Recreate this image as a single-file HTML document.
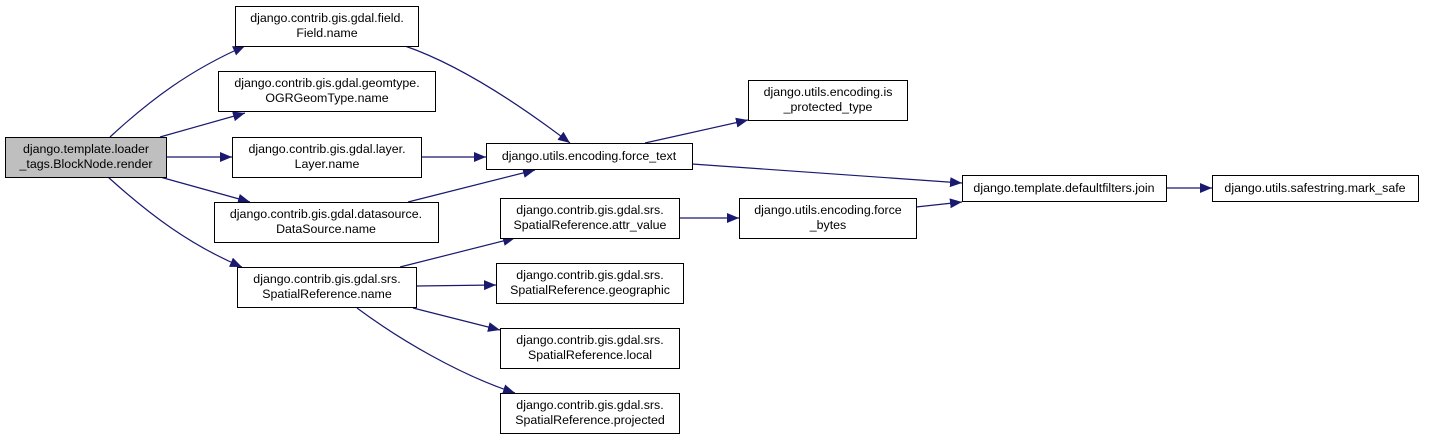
<!DOCTYPE html>
<html><head><meta charset="utf-8"><style>
html,body{margin:0;padding:0;background:#fff;}
svg text{font-family:"Liberation Sans",Arial,sans-serif;font-size:12.4px;fill:#000;}
</style></head><body>
<svg width="1440" height="440" viewBox="0 0 1440 440" xmlns="http://www.w3.org/2000/svg">
<defs>
<marker id="a" markerUnits="userSpaceOnUse" markerWidth="14" markerHeight="12" refX="12" refY="5" orient="auto">
<path d="M0,0 L12,5 L0,10 Z" fill="#191970"/>
</marker>
</defs>
<g fill="none" stroke="#191970" stroke-width="1.2" marker-end="url(#a)">
<path d="M110,137 C150,100 190,70 245,46"/>
<path d="M160,137 L245,113"/>
<path d="M166,157 L232,157"/>
<path d="M160,177 L250,202"/>
<path d="M108,177 C150,215 190,245 242,267"/>
<path d="M405,46 C460,65 520,105 570,143"/>
<path d="M421,157 L486,157"/>
<path d="M408,202 L535,170"/>
<path d="M645,143 L748,120"/>
<path d="M692,164 L962,183"/>
<path d="M400,267 L515,238"/>
<path d="M416,286 L496,285"/>
<path d="M413,308 L500,330"/>
<path d="M357,308 C400,340 460,375 515,393"/>
<path d="M679,218 L739,218"/>
<path d="M916,207 L962,202"/>
<path d="M1166,188 L1212,188"/>
</g>
<g stroke="#000" stroke-width="1" fill="#fff">
<rect x="5.5" y="137.5" width="161" height="40" fill="#bfbfbf"/>
<rect x="235.5" y="6.5" width="183" height="40"/>
<rect x="218.5" y="71.5" width="217" height="40"/>
<rect x="232.5" y="137.5" width="189" height="40"/>
<rect x="214.5" y="202.5" width="224" height="40"/>
<rect x="237.5" y="267.5" width="179" height="40"/>
<rect x="486.5" y="143.5" width="206" height="26"/>
<rect x="500.5" y="198.5" width="179" height="40"/>
<rect x="496.5" y="263.5" width="187" height="40"/>
<rect x="500.5" y="328.5" width="179" height="40"/>
<rect x="500.5" y="393.5" width="179" height="40"/>
<rect x="748.5" y="80.5" width="159" height="40"/>
<rect x="739.5" y="198.5" width="177" height="40"/>
<rect x="962.5" y="175.5" width="204" height="26"/>
<rect x="1212.5" y="175.5" width="206" height="26"/>
</g>
<g text-anchor="middle">
<text x="86" y="153">django.template.loader</text><text x="86" y="168">_tags.BlockNode.render</text>
<text x="327" y="22">django.contrib.gis.gdal.field.</text><text x="327" y="37">Field.name</text>
<text x="327" y="87">django.contrib.gis.gdal.geomtype.</text><text x="327" y="102">OGRGeomType.name</text>
<text x="327" y="153">django.contrib.gis.gdal.layer.</text><text x="327" y="168">Layer.name</text>
<text x="326" y="218">django.contrib.gis.gdal.datasource.</text><text x="326" y="233">DataSource.name</text>
<text x="327" y="283">django.contrib.gis.gdal.srs.</text><text x="327" y="298">SpatialReference.name</text>
<text x="589" y="160">django.utils.encoding.force_text</text>
<text x="590" y="214">django.contrib.gis.gdal.srs.</text><text x="590" y="229">SpatialReference.attr_value</text>
<text x="590" y="279">django.contrib.gis.gdal.srs.</text><text x="590" y="294">SpatialReference.geographic</text>
<text x="590" y="344">django.contrib.gis.gdal.srs.</text><text x="590" y="359">SpatialReference.local</text>
<text x="590" y="409">django.contrib.gis.gdal.srs.</text><text x="590" y="424">SpatialReference.projected</text>
<text x="828" y="96">django.utils.encoding.is</text><text x="828" y="111">_protected_type</text>
<text x="828" y="214">django.utils.encoding.force</text><text x="828" y="229">_bytes</text>
<text x="1064" y="192">django.template.defaultfilters.join</text>
<text x="1315" y="192">django.utils.safestring.mark_safe</text>
</g>
</svg>
</body></html>
